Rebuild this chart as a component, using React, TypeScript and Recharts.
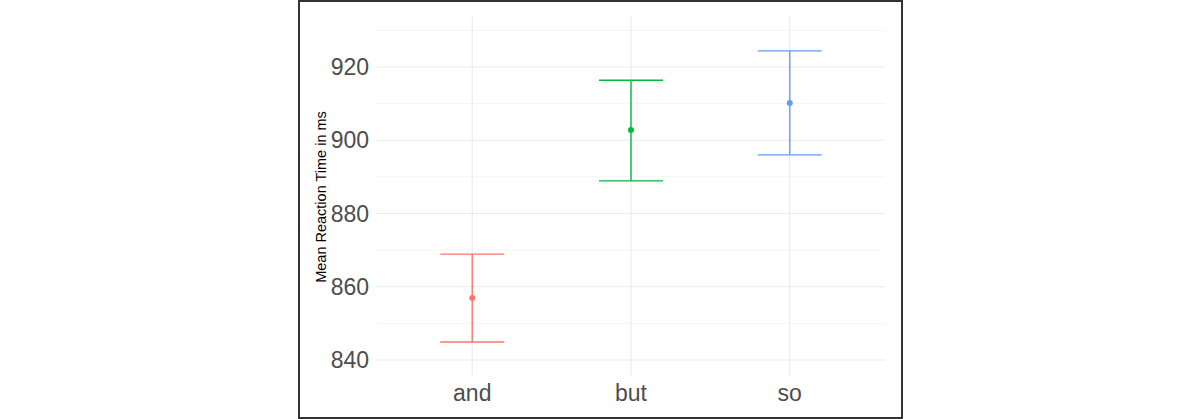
import React from 'react';
import {
  ComposedChart,
  Scatter,
  ErrorBar,
  XAxis,
  YAxis,
  CartesianGrid,
} from 'recharts';

// conditions on the x axis
const categories = ['and', 'but', 'so'];
// mean reaction time and the ends of the error bars (ms)
const means = [856.9, 902.8, 910.2];
const lowers = [844.9, 888.9, 896.0];
const uppers = [868.9, 916.4, 924.4];
const colors = ['#F8766D', '#00BA38', '#619CFF'];

const majorTicks = [840, 860, 880, 900, 920];
const minorTicks = [850, 870, 890, 910, 930];
const xTicks = [1, 2, 3];

const FONT = '"Liberation Sans", Arial, Helvetica, sans-serif';

const seriesData = categories.map((name, i) => [
  {
    x: i + 1,
    name,
    y: means[i],
    err: [means[i] - lowers[i], uppers[i] - means[i]],
  },
]);

export default function App() {
  return (
    <div style={{ position: 'absolute', left: 0, top: 0, width: 1200, height: 419, background: '#fff', fontFamily: FONT }}>
      <div
        style={{
          position: 'absolute',
          left: 298,
          top: 0,
          width: 605,
          height: 419,
          border: '2px solid #333',
          boxSizing: 'border-box',
        }}
      />
      <div style={{ position: 'absolute', left: 0, top: 0 }}>
        <ComposedChart
          width={1200}
          height={419}
          margin={{ top: 17, right: 315, bottom: 12, left: 317 }}
        >
          <CartesianGrid
            horizontalValues={minorTicks}
            vertical={false}
            stroke="#F2F2F2"
            strokeWidth={0.8}
          />
          <CartesianGrid
            horizontalValues={majorTicks}
            verticalValues={xTicks}
            stroke="#EBEBEB"
            strokeWidth={1.2}
          />
          <XAxis
            type="number"
            dataKey="x"
            domain={[0.4, 3.6]}
            ticks={xTicks}
            allowDataOverflow
            tickFormatter={(v) => categories[v - 1] ?? ''}
            axisLine={false}
            tickLine={false}
            height={30}
            tick={{ fill: '#4D4D4D', fontSize: 23, fontFamily: FONT }}
          />
          <YAxis
            type="number"
            dataKey="y"
            domain={[835.36, 933.65]}
            ticks={majorTicks}
            allowDataOverflow
            axisLine={false}
            tickLine={false}
            width={60}
            tick={{ fill: '#4D4D4D', fontSize: 23, fontFamily: FONT }}
            label={{
              value: 'Mean Reaction Time in ms',
              angle: -90,
              position: 'insideLeft',
              offset: 4,
              style: { textAnchor: 'middle', fill: '#000', fontSize: 14.5, fontFamily: FONT },
            }}
          />
          {seriesData.map((d, i) => (
            <Scatter
              key={categories[i]}
              data={d}
              isAnimationActive={false}
              fill={colors[i]}
              shape={(p: any) => <circle cx={p.cx} cy={p.cy} r={3} fill={colors[i]} />}
            >
              <ErrorBar
                dataKey="err"
                direction="y"
                width={32}
                stroke={colors[i]}
                strokeWidth={1.4}
                isAnimationActive={false}
              />
            </Scatter>
          ))}
        </ComposedChart>
      </div>
    </div>
  );
}
